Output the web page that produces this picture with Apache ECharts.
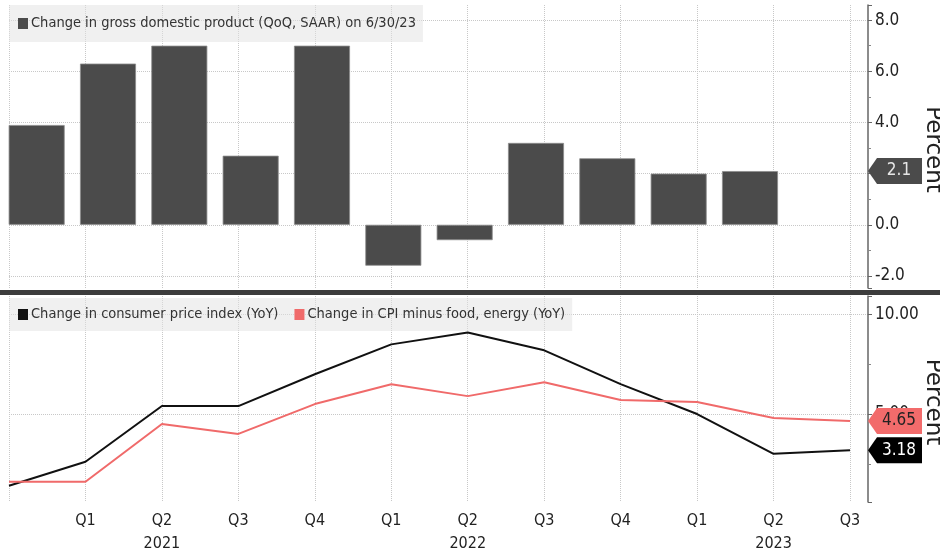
<!DOCTYPE html>
<html>
<head>
<meta charset="utf-8">
<style>
    html, body { margin: 0; padding: 0; background: #fff; }
    #main { width: 940px; height: 555px; }
</style>
<script src="https://cdn.jsdelivr.net/npm/echarts@6/dist/echarts.min.js"></script>
</head>
<body>
<div id="main"></div>
<script>
// 数据
var quarters = ['2020 Q4', '2021 Q1', '2021 Q2', '2021 Q3', '2021 Q4', '2022 Q1',
    '2022 Q2', '2022 Q3', '2022 Q4', '2023 Q1', '2023 Q2', '2023 Q3'];
var quarterLabels = ['', 'Q1', 'Q2', 'Q3', 'Q4', 'Q1', 'Q2', 'Q3', 'Q4', 'Q1', 'Q2', 'Q3'];
var yearLabels = ['', '', '2021', '', '', '', '2022', '', '', '', '2023', ''];
var gdpValues = [3.9, 6.3, 7.0, 2.7, 7.0, -1.6, -0.6, 3.2, 2.6, 2.0, 2.1];
var cpiValues = [1.4, 2.6, 5.4, 5.4, 7.0, 8.5, 9.1, 8.2, 6.5, 5.0, 3.0, 3.18];
var coreValues = [1.6, 1.6, 4.5, 4.0, 5.5, 6.5, 5.9, 6.6, 5.7, 5.6, 4.8, 4.65];
var gdpRange = [-2.47, 8.59];
var cpiRange = [0.58, 10.93];

var gdpName = 'Change in gross domestic product (QoQ, SAAR) on 6/30/23';
var cpiName = 'Change in consumer price index (YoY)';
var coreName = 'Change in CPI minus food, energy (YoY)';

var font = 'DejaVu Sans Condensed';
var gridColor = '#c8c8c8';
var tagPath = 'path://M0,13 L9,0 L54,0 L54,26 L9,26 Z';

// 右侧标签
function tag(x, value, digits, fill, textColor, dx) {
    return {
        coord: [x, value],
        value: value,
        symbol: tagPath,
        symbolSize: [54, 26],
        symbolOffset: [dx, 0],
        itemStyle: { color: fill },
        label: {
            show: true,
            position: 'inside',
            offset: [4, 0],
            formatter: function () { return value.toFixed(digits); },
            color: textColor,
            fontFamily: font,
            fontSize: 17
        }
    };
}

// 右侧坐标轴
function rightAxis(grid, range, splitNumber, digits) {
    return {
        type: 'value', gridIndex: grid, position: 'right',
        min: range[0], max: range[1], splitNumber: splitNumber,
        name: 'Percent', nameLocation: 'middle', nameRotate: -90, nameGap: 53,
        nameMoveOverlap: false,
        nameTextStyle: { fontFamily: 'DejaVu Sans', fontSize: 23, color: '#222', padding: [0, 0, 0, 6] },
        axisLine: { show: true, lineStyle: { color: '#666', width: 1.5 } },
        axisTick: { show: true, length: 4, lineStyle: { color: '#666' } },
        minorTick: { show: true, splitNumber: 2, length: 3, lineStyle: { color: '#888' } },
        axisLabel: {
            margin: 7, color: '#222', fontFamily: font, fontSize: 17,
            showMinLabel: false, showMaxLabel: false,
            formatter: function (v) { return v.toFixed(digits); }
        },
        splitLine: {
            show: true, showMinLine: false, showMaxLine: false,
            lineStyle: { color: gridColor, type: 'dotted' }
        }
    };
}

function hiddenY(grid, range) {
    return { type: 'value', gridIndex: grid, min: range[0], max: range[1], show: false };
}

var legendText = { fontFamily: font, fontSize: 14.5, color: '#333', padding: [0, 0, 0, -2] };

var myChart = echarts.init(document.getElementById('main'));
var option = {
    animation: false,
    backgroundColor: '#fff',
    grid: [
        { left: 1, width: 856, top: 5, height: 283, outerBoundsMode: 'none' },
        { left: 9, width: 841, top: 296, height: 206, outerBoundsMode: 'none' },
        { left: 9, width: 841, top: 5, height: 283, outerBoundsMode: 'none' },
        { left: 9, width: 859, top: 5, height: 283, outerBoundsMode: 'none' },
        { left: 9, width: 859, top: 296, height: 206, outerBoundsMode: 'none' }
    ],
    legend: [
        {
            data: [gdpName],
            left: 9, top: 5,
            padding: [11, 7, 11, 9],
            backgroundColor: 'rgba(225,225,225,0.5)',
            icon: 'rect', itemWidth: 10, itemHeight: 11,
            itemStyle: { borderWidth: 0 },
            textStyle: legendText
        },
        {
            data: [cpiName, coreName],
            left: 9, top: 298,
            padding: [9, 7, 9, 9],
            itemGap: 16,
            backgroundColor: 'rgba(225,225,225,0.5)',
            icon: 'rect', itemWidth: 10, itemHeight: 11,
            itemStyle: { borderWidth: 0 },
            textStyle: legendText
        }
    ],
    graphic: [{
        type: 'rect',
        left: 0, top: 290,
        shape: { width: 940, height: 5 },
        style: { fill: '#3c3c3c' }
    }],
    xAxis: [
        { type: 'category', gridIndex: 0, data: quarters, show: false },
        {
            type: 'category', gridIndex: 1, data: quarters,
            boundaryGap: false,
            axisLine: { show: false },
            axisTick: { show: false },
            splitLine: { show: true, lineStyle: { color: gridColor, type: 'dotted' } },
            axisLabel: {
                interval: 0,
                margin: 7,
                color: '#222',
                fontFamily: font,
                fontSize: 16,
                lineHeight: 23,
                formatter: function (v, i) {
                    return quarterLabels[i] + '\n' + yearLabels[i];
                }
            }
        },
        {
            type: 'category', gridIndex: 2, data: quarters,
            boundaryGap: false,
            axisLine: { show: false },
            axisTick: { show: false },
            axisLabel: { show: false },
            splitLine: { show: true, lineStyle: { color: gridColor, type: 'dotted' } }
        },
        { type: 'category', gridIndex: 3, data: quarters, show: false },
        { type: 'category', gridIndex: 4, data: quarters, show: false }
    ],
    yAxis: [
        hiddenY(0, gdpRange),
        hiddenY(1, cpiRange),
        hiddenY(2, [0, 1]),
        rightAxis(3, gdpRange, 5, 1),
        rightAxis(4, cpiRange, 2, 2)
    ],
    series: [
        {
            name: gdpName,
            type: 'bar',
            xAxisIndex: 0, yAxisIndex: 0,
            barWidth: 56,
            itemStyle: { color: '#4b4b4b', borderColor: '#8c8c8c', borderWidth: 0.8 },
            data: gdpValues,
            markPoint: {
                data: [tag(quarters[gdpValues.length - 1], gdpValues[gdpValues.length - 1], 1, '#4b4b4b', '#e6e6e6', 145)]
            }
        },
        {
            name: cpiName,
            type: 'line',
            xAxisIndex: 1, yAxisIndex: 1,
            symbol: 'none',
            lineStyle: { color: '#111', width: 2 },
            itemStyle: { color: '#111' },
            data: cpiValues,
            markPoint: {
                data: [tag(quarters[cpiValues.length - 1], cpiValues[cpiValues.length - 1], 2, '#000', '#fff', 45)]
            }
        },
        {
            name: coreName,
            type: 'line',
            xAxisIndex: 1, yAxisIndex: 1,
            symbol: 'none',
            lineStyle: { color: '#f06a6a', width: 2 },
            itemStyle: { color: '#f06a6a' },
            data: coreValues,
            markPoint: {
                data: [tag(quarters[coreValues.length - 1], coreValues[coreValues.length - 1], 2, '#f26b6b', '#222', 45)]
            }
        }
    ]
};
myChart.setOption(option);
</script>
</body>
</html>
